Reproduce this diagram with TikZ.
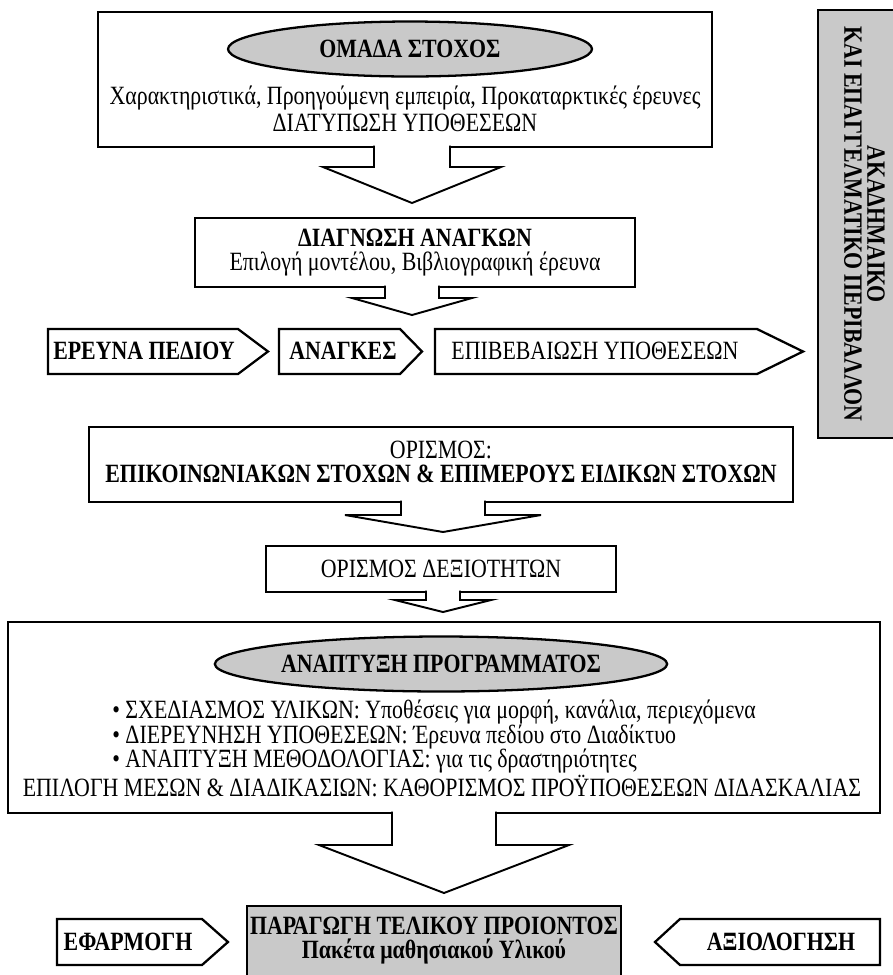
\documentclass[tikz,border=0pt]{standalone}
\usepackage{fontspec}
\setmainfont{Liberation Serif}[FakeStretch=0.83]
\usetikzlibrary{calc,positioning,shapes.geometric}
\colorlet{boxgray}{black!21}
\tikzstyle{frame}=[draw=black,line width=1.3pt,line join=miter]
\tikzstyle{blockarr}=[draw=black,line width=1.1pt,fill=white,line join=miter]
\tikzset{
  txt/.style={inner sep=0pt,font=\fontsize{15}{17}\selectfont},
  btxt/.style={inner sep=0pt,font=\fontsize{15}{17}\selectfont\bfseries},
  oval/.style={ellipse,draw=black,line width=1.3pt,fill=boxgray,inner sep=0pt,
               minimum height=1.1cm,font=\fontsize{15}{17}\selectfont\bfseries}}
% x, top, stem half width, head half width, shoulder, tip
\newcommand\downBlock[6]{
  \draw[blockarr] ({#1-#3},{#2-1.5}) -- ({#1-#3},#5) -- ({#1-#4},#5) -- (#1,#6)
    -- ({#1+#4},#5) -- ({#1+#3},#5) -- ({#1+#3},{#2-1.5});
}
% left, top, body end, tip, bottom
\newcommand\pentRight[5]{
  \draw[frame] (#1,#2) -- (#3,#2) -- (#4,{(#2+#5)/2}) -- (#3,#5) -- (#1,#5) -- cycle;
}
\newcommand\pentLeft[5]{
  \draw[frame] (#1,#2) -- (#3,#2) -- (#4,{(#2+#5)/2}) -- (#3,#5) -- (#1,#5) -- cycle;
}

\begin{document}
\begin{tikzpicture}[x=0.02cm,y=-0.02cm]
  \useasboundingbox (0,0) rectangle (893,975);
  \clip (0,0) rectangle (893,975);

  % ENVIRONMENT
  \draw[frame,fill=boxgray] (818,10) rectangle (910,438);
  \node[btxt,rotate=-90] (acad) at (876,224) {ΑΚΑΔΗΜΑΙΚΟ};
  \node[btxt,rotate=-90] (env) at (853,224) {ΚΑΙ ΕΠΑΓΓΕΛΜΑΤΙΚΟ ΠΕΡΙΒΑΛΛΟΝ};

  % TARGET GROUP
  \draw[frame] (98,12) rectangle (712,147);
  \node[oval,minimum width=7.28cm] (target) at (410,49) {ΟΜΑΔΑ ΣΤΟΧΟΣ};
  \node[txt] (traits) at (405,98) {Χαρακτηριστικά, Προηγούμενη εμπειρία, Προκαταρκτικές έρευνες};
  \node[txt] (hyp) at (405,123) {ΔΙΑΤΥΠΩΣΗ ΥΠΟΘΕΣΕΩΝ};
  \downBlock{412}{147}{38}{89}{167}{203}

  % NEEDS
  \draw[frame] (195,218) rectangle (635,287);
  \node[btxt] (diag) at (415,238) {ΔΙΑΓΝΩΣΗ ΑΝΑΓΚΩΝ};
  \node[txt] (model) at (415,264) {Επιλογή μοντέλου, Βιβλιογραφική έρευνα};
  \downBlock{412}{287}{27}{60}{298}{315}

  % FIELD RESEARCH
  \pentRight{48}{329}{238}{268}{374}
  \node[btxt] (field) at (144,351) {ΕΡΕΥΝΑ ΠΕΔΙΟΥ};
  \pentRight{279}{329}{400}{422}{374}
  \node[btxt] (needs) at (343,351) {ΑΝΑΓΚΕΣ};
  \pentRight{435}{329}{757}{803}{374}
  \node[txt] (confirm) at (595,351) {ΕΠΙΒΕΒΑΙΩΣΗ ΥΠΟΘΕΣΕΩΝ};

  % GOALS
  \draw[frame] (89,427) rectangle (793,502);
  \node[txt] (def) at (441,450) {ΟΡΙΣΜΟΣ:};
  \node[btxt] (goals) at (441,474) {ΕΠΙΚΟΙΝΩΝΙΑΚΩΝ ΣΤΟΧΩΝ \& ΕΠΙΜΕΡΟΥΣ ΕΙΔΙΚΩΝ ΣΤΟΧΩΝ};
  \downBlock{443}{502}{42}{98}{515}{532}

  % SKILLS
  \draw[frame] (266,546) rectangle (616,592);
  \node[txt] (skills) at (441,569) {ΟΡΙΣΜΟΣ ΔΕΞΙΟΤΗΤΩΝ};
  \downBlock{443}{592}{17}{48}{600}{612}

  % PROGRAMME
  \draw[frame] (8,622) rectangle (880,813);
  \node[oval,minimum width=7.36cm] (prog) at (441,664) {ΑΝΑΠΤΥΞΗ ΠΡΟΓΡΑΜΜΑΤΟΣ};
  \node[txt,anchor=west] (design) at (112,712) {• ΣΧΕΔΙΑΣΜΟΣ ΥΛΙΚΩΝ: Υποθέσεις για μορφή, κανάλια, περιεχόμενα};
  \node[txt,anchor=west] (probe) at (112,737) {• ΔΙΕΡΕΥΝΗΣΗ ΥΠΟΘΕΣΕΩΝ: Έρευνα πεδίου στο Διαδίκτυο};
  \node[txt,anchor=west] (method) at (112,761) {• ΑΝΑΠΤΥΞΗ ΜΕΘΟΔΟΛΟΓΙΑΣ: για τις δραστηριότητες};
  \node[txt] (media) at (442,786) {ΕΠΙΛΟΓΗ ΜΕΣΩΝ \& ΔΙΑΔΙΚΑΣΙΩΝ: ΚΑΘΟΡΙΣΜΟΣ ΠΡΟΫΠΟΘΕΣΕΩΝ ΔΙΔΑΣΚΑΛΙΑΣ};
  \downBlock{444}{813}{52}{125}{845}{893}

  % PRODUCT
  \draw[frame,fill=boxgray] (247,906) rectangle (621,990);
  \node[btxt] (product) at (434,926) {ΠΑΡΑΓΩΓΗ ΤΕΛΙΚΟΥ ΠΡΟΙΟΝΤΟΣ};
  \node[btxt] (pack) at (434,952) {Πακέτα μαθησιακού Υλικού};
  \pentRight{57}{919}{202}{228}{965}
  \node[btxt] (apply) at (128,942) {ΕΦΑΡΜΟΓΗ};
  \pentLeft{880}{919}{680}{655}{965}
  \node[btxt] (eval) at (781,942) {ΑΞΙΟΛΟΓΗΣΗ};
\end{tikzpicture}
\end{document}
